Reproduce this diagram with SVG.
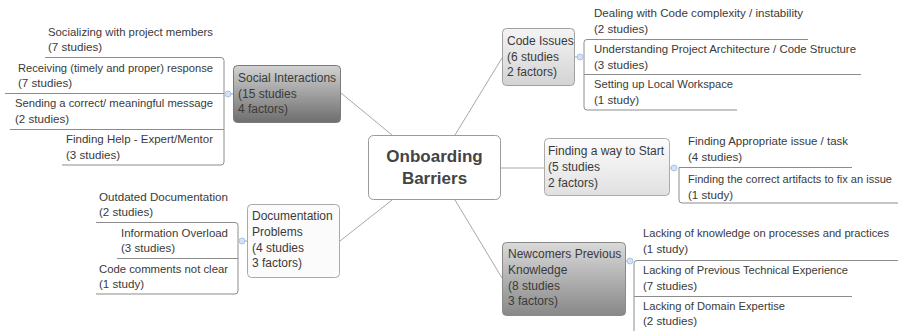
<svg xmlns="http://www.w3.org/2000/svg" width="898" height="331" viewBox="0 0 898 331">
<defs>
<linearGradient id="gSocial" x1="0" y1="0" x2="0" y2="1"><stop offset="0" stop-color="#d2d2d2"/><stop offset="1" stop-color="#6e6e6e"/></linearGradient>
<linearGradient id="gCode" x1="0" y1="0" x2="0" y2="1"><stop offset="0" stop-color="#f4f4f4"/><stop offset="1" stop-color="#d3d3d3"/></linearGradient>
<linearGradient id="gFind" x1="0" y1="0" x2="0" y2="1"><stop offset="0" stop-color="#fcfcfc"/><stop offset="1" stop-color="#e0e0e0"/></linearGradient>
<linearGradient id="gNew" x1="0" y1="0" x2="0" y2="1"><stop offset="0" stop-color="#dadada"/><stop offset="1" stop-color="#888888"/></linearGradient>
</defs>
<style>
text{font-family:"Liberation Sans",Arial,sans-serif;font-size:12px;fill:#3a3a3a}
.l{font-size:11.6px}
.s{font-size:11.2px}
.c{fill:none;stroke:#a8a8a8;stroke-width:1}
.u{fill:none;stroke:#8c8c8c;stroke-width:1}
.dot{fill:#d4e2f5;stroke:#aac3e6;stroke-width:1}
.center{font-weight:bold;font-size:17px;fill:#444;text-anchor:middle}
.nb{stroke:#9a9a9a;stroke-width:1}
</style>
<rect width="898" height="331" fill="#fff"/>
<g id="connectors">
<path class="c" d="M392,135 L341,93 M455,135 L502,58 M501,168 H544 M455,200 L502,278 M392,200 L340,241"/>
<path class="u" d="M45,57.5 H221 Q224,57.5 224,60.5 V162 Q224,165 221,165 H62 M5,93.5 H224 M10,129.5 H224"/>
<path class="u" d="M96,222.5 H235 Q238,222.5 238,225.5 V291 Q238,294 235,294 H96 M117,258.5 H238"/>
<path class="u" d="M808,39.5 H587 Q584,39.5 584,42.5 V107 Q584,110 587,110 H737 M584,74.5 H861"/>
<path class="u" d="M852,167.5 H679 V200 Q679,203 682,203 H898"/>
<path class="u" d="M898,260.5 H637 Q634,260.5 634,263.5 V331 M634,296.5 H852"/>
<path class="c" d="M231,94 H233 M244,241 H247 M575,57 H578 M670,168 H672 M626,261 H628"/>
<circle class="dot" cx="228" cy="94" r="3"/>
<circle class="dot" cx="242" cy="241" r="3"/>
<circle class="dot" cx="580" cy="57" r="3"/>
<circle class="dot" cx="674" cy="168" r="3"/>
<circle class="dot" cx="630" cy="261" r="3"/>
</g>
<g id="center">
<rect x="368.5" y="135.5" width="132" height="64" rx="5" fill="#fff" class="nb"/>
<text class="center" x="434.5" y="162">Onboarding</text>
<text class="center" x="434.5" y="184">Barriers</text>
</g>
<g id="social">
<rect x="233.5" y="65.5" width="107" height="57" rx="4" fill="url(#gSocial)" stroke="#7a7a7a"/>
<text x="238" y="82">Social Interactions</text>
<text x="238" y="98">(15 studies</text>
<text x="238" y="113">4 factors)</text>
</g>
<g id="code">
<rect x="502.5" y="28.5" width="72" height="57" rx="4" fill="url(#gCode)" stroke="#a0a0a0"/>
<text x="507" y="45">Code Issues</text>
<text x="507" y="61">(6 studies</text>
<text x="507" y="76">2 factors)</text>
</g>
<g id="finding">
<rect x="544.5" y="138.5" width="125" height="57" rx="4" fill="url(#gFind)" stroke="#ababab"/>
<text x="548" y="155">Finding a way to Start</text>
<text x="548" y="171">(5 studies</text>
<text x="548" y="187">2 factors)</text>
</g>
<g id="newcomers">
<rect x="502.5" y="242.5" width="123" height="73" rx="4" fill="url(#gNew)" stroke="#8a8a8a"/>
<text x="508" y="258">Newcomers Previous</text>
<text x="508" y="274">Knowledge</text>
<text x="508" y="290">(8 studies</text>
<text x="508" y="305">3 factors)</text>
</g>
<g id="documentation">
<rect x="247.5" y="204.5" width="92" height="73" rx="4" fill="#fbfbfb" stroke="#aaaaaa"/>
<text x="252" y="220">Documentation</text>
<text x="252" y="236">Problems</text>
<text x="252" y="252">(4 studies</text>
<text x="252" y="267">3 factors)</text>
</g>
<g id="social-leaves">
<g id="socializing"><text class="l" x="48" y="36" textLength="165" lengthAdjust="spacingAndGlyphs">Socializing with project members</text><text class="l" x="48" y="51">(7 studies)</text></g>
<g id="receiving"><text class="l" x="18" y="72" textLength="195" lengthAdjust="spacingAndGlyphs">Receiving (timely and proper) response</text><text class="l" x="18" y="87">(7 studies)</text></g>
<g id="sending"><text class="l" x="15" y="107" textLength="198" lengthAdjust="spacingAndGlyphs">Sending a correct/ meaningful message</text><text class="l" x="15" y="123">(2 studies)</text></g>
<g id="help"><text class="l" x="66" y="143" textLength="147" lengthAdjust="spacingAndGlyphs">Finding Help - Expert/Mentor</text><text class="l" x="66" y="159">(3 studies)</text></g>
</g>
<g id="doc-leaves">
<g id="outdated"><text class="l" x="99" y="201" textLength="129" lengthAdjust="spacingAndGlyphs">Outdated Documentation</text><text class="l" x="99" y="216">(2 studies)</text></g>
<g id="overload"><text class="l" x="121" y="237" textLength="107" lengthAdjust="spacingAndGlyphs">Information Overload</text><text class="l" x="121" y="252">(3 studies)</text></g>
<g id="comments"><text class="l" x="99" y="273" textLength="129" lengthAdjust="spacingAndGlyphs">Code comments not clear</text><text class="l" x="99" y="288">(1 study)</text></g>
</g>
<g id="code-leaves">
<g id="complexity"><text class="l" x="594" y="17" textLength="209" lengthAdjust="spacingAndGlyphs">Dealing with Code complexity / instability</text><text class="l" x="594" y="33">(2 studies)</text></g>
<g id="architecture"><text class="l" x="594" y="53" textLength="262" lengthAdjust="spacingAndGlyphs">Understanding Project Architecture / Code Structure</text><text class="l" x="594" y="69">(3 studies)</text></g>
<g id="workspace"><text class="l" x="594" y="88" textLength="139" lengthAdjust="spacingAndGlyphs">Setting up Local Workspace</text><text class="l" x="594" y="104">(1 study)</text></g>
</g>
<g id="finding-leaves">
<g id="issue"><text class="l" x="688" y="145" textLength="160" lengthAdjust="spacingAndGlyphs">Finding Appropriate issue / task</text><text class="l" x="688" y="161">(4 studies)</text></g>
<g id="artifacts"><text class="s" x="688" y="183" textLength="204" lengthAdjust="spacingAndGlyphs">Finding the correct artifacts to fix an issue</text><text class="l" x="688" y="199">(1 study)</text></g>
</g>
<g id="newcomer-leaves">
<g id="processes"><text class="s" x="643" y="237" textLength="246" lengthAdjust="spacingAndGlyphs">Lacking of knowledge on processes and practices</text><text class="l" x="643" y="253">(1 study)</text></g>
<g id="technical"><text class="l" x="643" y="274" textLength="205" lengthAdjust="spacingAndGlyphs">Lacking of Previous Technical Experience</text><text class="l" x="643" y="290">(7 studies)</text></g>
<g id="domain"><text class="l" x="643" y="310" textLength="142" lengthAdjust="spacingAndGlyphs">Lacking of Domain Expertise</text><text class="l" x="643" y="325">(2 studies)</text></g>
</g>
</svg>
